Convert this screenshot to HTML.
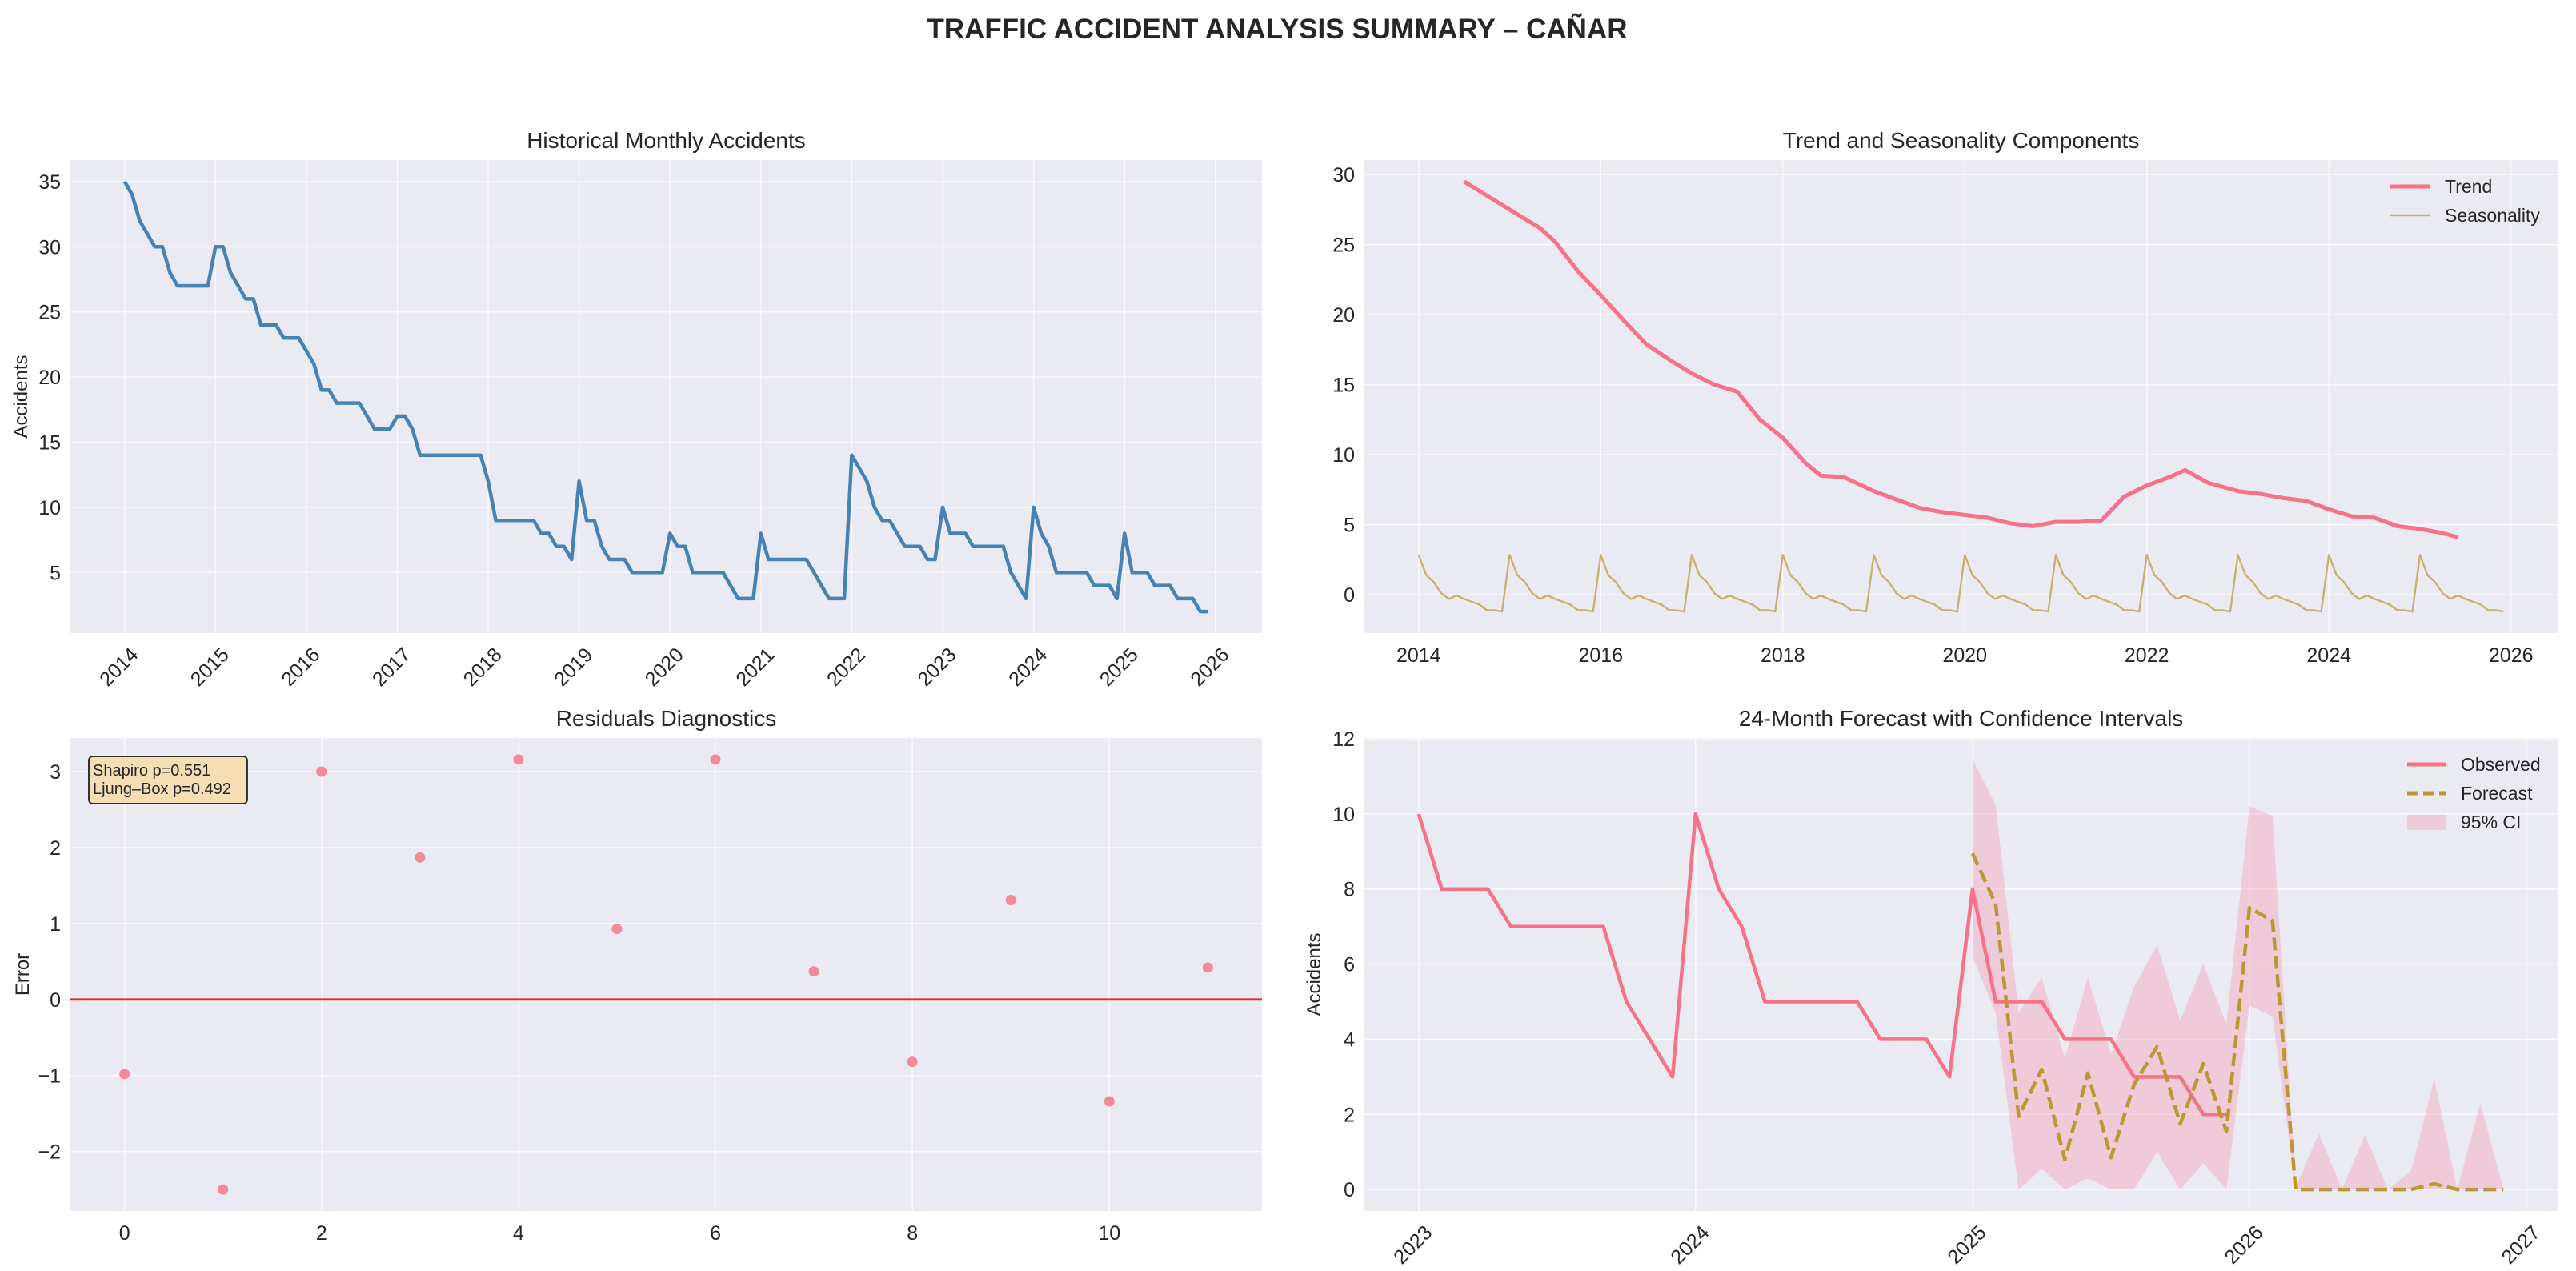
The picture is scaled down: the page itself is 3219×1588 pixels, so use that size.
<!DOCTYPE html>
<html><head><meta charset="utf-8">
<style>
html,body{margin:0;padding:0;background:#fff;}
svg{display:block;font-family:"Liberation Sans","DejaVu Sans",sans-serif;}
</style></head>
<body>
<svg id="fig" width="3219" height="1588" viewBox="0 0 3219 1588" xmlns="http://www.w3.org/2000/svg">
<text x="1596" y="48" text-anchor="middle" font-size="35" font-weight="bold" fill="#262626">TRAFFIC ACCIDENT ANALYSIS SUMMARY – CAÑAR</text>
</svg>
<script>
// ---------- data ----------
const histStartYear = 2014;
const histValues = [
35,34,32,31,30,30,28,27,27,27,27,27,
30,30,28,27,26,26,24,24,24,23,23,23,
22,21,19,19,18,18,18,18,17,16,16,16,
17,17,16,14,14,14,14,14,14,14,14,14,
12,9,9,9,9,9,9,8,8,7,7,6,
12,9,9,7,6,6,6,5,5,5,5,5,
8,7,7,5,5,5,5,5,4,3,3,3,
8,6,6,6,6,6,6,5,4,3,3,3,
14,13,12,10,9,9,8,7,7,7,6,6,
10,8,8,8,7,7,7,7,7,5,4,3,
10,8,7,5,5,5,5,5,4,4,4,3,
8,5,5,5,4,4,4,3,3,3,2,2];
const histYTicks = [5,10,15,20,25,30,35];
const histXTicks = [2014,2015,2016,2017,2018,2019,2020,2021,2022,2023,2024,2025,2026];

const trendTimes = [2014.5,2015.0,2015.33,2015.5,2015.75,2016.0,2016.25,2016.5,2016.75,2017.0,2017.25,2017.5,2017.75,2018.0,2018.25,2018.42,2018.67,2019.0,2019.25,2019.5,2019.75,2020.0,2020.25,2020.5,2020.75,2021.0,2021.25,2021.5,2021.75,2022.0,2022.25,2022.42,2022.67,2023.0,2023.25,2023.5,2023.75,2024.0,2024.25,2024.5,2024.75,2025.0,2025.25,2025.42];
const trendValues = [29.5,27.5,26.2,25.2,23.1,21.4,19.6,17.9,16.8,15.8,15.0,14.5,12.5,11.2,9.4,8.5,8.4,7.4,6.8,6.2,5.9,5.7,5.5,5.1,4.9,5.2,5.2,5.3,7.0,7.8,8.4,8.9,8.0,7.4,7.2,6.9,6.7,6.1,5.6,5.5,4.9,4.7,4.4,4.1];
const seasonPattern = [2.85,1.4,0.9,0.1,-0.3,-0.05,-0.3,-0.5,-0.7,-1.1,-1.1,-1.2];
const seasonYears = 12;
const compYTicks = [0,5,10,15,20,25,30];
const compXTicks = [2014,2016,2018,2020,2022,2024,2026];

const residValues = [-0.98,-2.5,3.0,1.87,3.16,0.93,3.16,0.37,-0.82,1.31,-1.34,0.42];
const residYTicks = [-2,-1,0,1,2,3];
const residXTicks = [0,2,4,6,8,10];

const obsStartIndex = 108; // Jan 2023 within histValues
const fcValues = [8.95,7.6,1.95,3.2,0.8,3.1,0.85,2.8,3.8,1.75,3.35,1.55,7.5,7.15,0,0,0,0,0,0,0.15,0,0,0];
const ciUpper = [11.45,10.25,4.7,5.65,3.5,5.65,3.6,5.4,6.5,4.5,6.0,4.4,10.2,9.95,0.05,1.5,0,1.45,0,0.5,2.95,0,2.3,0];
const ciLower = [6.2,4.7,0,0.55,0,0.3,0,0,1.0,0,0.7,0,4.9,4.6,0,0,0,0,0,0,0,0,0,0];
const fcYTicks = [0,2,4,6,8,10,12];
const fcXTicks = [2023,2024,2025,2026,2027];

// ---------- helpers ----------
const NS = "http://www.w3.org/2000/svg";
const svg = document.getElementById('fig');
const TICK = 25;
function mk(tag, attrs, parent){
  const e = document.createElementNS(NS, tag);
  for (const k in attrs) e.setAttribute(k, attrs[k]);
  (parent||svg).appendChild(e);
  return e;
}
function scale(d0,d1,r0,r1){ return v => r0 + (v-d0)*(r1-r0)/(d1-d0); }
function frame(box, name, title, xd, yd, xticks, yticks, rotate, ylabel){
  const g = mk('g', {});
  
  
  const bg = mk('rect', {x:box.l, y:box.t, width:box.r-box.l, height:box.b-box.t, fill:'#eaeaf2'}, g);
  
  
  const X = scale(xd[0], xd[1], box.l, box.r), Y = scale(yd[0], yd[1], box.b, box.t);
  yticks.forEach(v => {
    const y = Y(v);
    const gl = mk('line', {x1:box.l, x2:box.r, y1:y, y2:y, stroke:'#ffffff', 'stroke-opacity':0.7, 'stroke-width':1.5}, g);
    
    
    const t = mk('text', {x:box.l-12, y:y+9, 'text-anchor':'end', 'font-size':TICK, fill:'#262626'}, g);
    
    
    t.textContent = v < 0 ? '\u2212' + Math.abs(v) : v;
  });
  xticks.forEach(v => {
    const x = X(v);
    const gl = mk('line', {x1:x, x2:x, y1:box.t, y2:box.b, stroke:'#ffffff', 'stroke-opacity':0.7, 'stroke-width':1.5}, g);
    
    
    let t;
    if (rotate){
      t = mk('text', {x:x+6, y:box.b+16, 'text-anchor':'end', 'font-size':TICK, fill:'#262626', transform:`rotate(-45 ${x+6} ${box.b+16})`, dy:'0.7em'}, g);
    } else {
      t = mk('text', {x:x, y:box.b+36, 'text-anchor':'middle', 'font-size':TICK, fill:'#262626'}, g);
    }
    
    
    t.textContent = v;
  });
  const tt = mk('text', {x:(box.l+box.r)/2, y:box.t-15, 'text-anchor':'middle', 'font-size':28, fill:'#262626'}, g);
  
  
  tt.textContent = title;
  if (ylabel){
    const cy = (box.t+box.b)/2;
    const yl = mk('text', {x:ylabel.x, y:cy, 'text-anchor':'middle', 'font-size':24, fill:'#262626', transform:`rotate(-90 ${ylabel.x} ${cy})`}, g);
    
    
    yl.textContent = ylabel.text;
  }
  return {g, X, Y};
}
function pathD(xs, ys, X, Y){ return xs.map((x,i)=>(i?'L':'M')+X(x).toFixed(1)+','+Y(ys[i]).toFixed(1)).join(''); }

// ---------- panel 1: history ----------
{
  const box = {l:88, r:1577, t:200, b:791};
  const n = histValues.length;
  const times = histValues.map((v,i)=>histStartYear + i/12);
  const t0 = times[0], t1 = times[n-1], pad=(t1-t0)*0.05;
  const vmin = Math.min(...histValues), vmax = Math.max(...histValues), vp=(vmax-vmin)*0.05;
  const a = frame(box, 'historical-panel', 'Historical Monthly Accidents', [t0-pad,t1+pad], [vmin-vp, vmax+vp], histXTicks, histYTicks, true, {x:34, text:'Accidents'});
  const p = mk('path', {d:pathD(times, histValues, a.X, a.Y), fill:'none', stroke:'#4682b4', 'stroke-width':4.5, 'stroke-linejoin':'round'}, a.g);
  
  
}

// ---------- panel 2: components ----------
{
  const box = {l:1705, r:3196, t:200, b:791};
  const sTimes = [], sVals = [];
  for (let y=0; y<seasonYears; y++) seasonPattern.forEach((v,m)=>{ sTimes.push(2014 + y + m/12); sVals.push(v); });
  const t0 = sTimes[0], t1 = sTimes[sTimes.length-1], pad=(t1-t0)*0.05;
  const all = trendValues.concat(sVals);
  const vmin = Math.min(...all), vmax = Math.max(...all), vp=(vmax-vmin)*0.05;
  const a = frame(box, 'components-panel', 'Trend and Seasonality Components', [t0-pad,t1+pad], [vmin-vp, vmax+vp], compXTicks, compYTicks, false, null);
  const sp = mk('path', {d:pathD(sTimes, sVals, a.X, a.Y), fill:'none', stroke:'#c9b072', 'stroke-width':2.4, 'stroke-linejoin':'round'}, a.g);
  
  
  const tp = mk('path', {d:pathD(trendTimes, trendValues, a.X, a.Y), fill:'none', stroke:'#f77189', 'stroke-width':5, 'stroke-linejoin':'round'}, a.g);
  
  
  const lg = mk('g', {}, a.g);
  
  
  const l1 = mk('line', {x1:2987, x2:3036, y1:233, y2:233, stroke:'#f77189', 'stroke-width':5}, lg);
   
  const t1e = mk('text', {x:3055, y:241, 'font-size':23, fill:'#262626'}, lg);
   
  t1e.textContent = 'Trend';
  const l2 = mk('line', {x1:2987, x2:3036, y1:269, y2:269, stroke:'#c9b072', 'stroke-width':2.5}, lg);
   
  const t2e = mk('text', {x:3055, y:277, 'font-size':23, fill:'#262626'}, lg);
   
  t2e.textContent = 'Seasonality';
}

// ---------- panel 3: residuals ----------
{
  const box = {l:88, r:1577, t:922, b:1513};
  const n = residValues.length;
  const xs = residValues.map((v,i)=>i);
  const pad = (n-1)*0.05;
  const vmin = Math.min(...residValues), vmax = Math.max(...residValues), vp=(vmax-vmin)*0.05;
  const a = frame(box, 'residuals-panel', 'Residuals Diagnostics', [-pad, n-1+pad], [vmin-vp, vmax+vp], residXTicks, residYTicks, false, {x:36, text:'Error'});
  const hl = mk('line', {x1:box.l, x2:box.r, y1:a.Y(0), y2:a.Y(0), stroke:'#e0282e', 'stroke-width':2.8}, a.g);
  
  
  residValues.forEach((v,i)=>{
    const c = mk('circle', {cx:a.X(i), cy:a.Y(v), r:6.5, fill:'#f5899c'}, a.g);
    
    
  });
  const tb = mk('g', {}, a.g);
  
  
  const r = mk('rect', {x:111, y:945, width:198, height:59, rx:5, fill:'#f5deb3', stroke:'#333', 'stroke-width':2}, tb);
   
  const s1 = mk('text', {x:116, y:969, 'font-size':20, fill:'#262626'}, tb);
   
  s1.textContent = 'Shapiro p=0.551';
  const s2 = mk('text', {x:116, y:992, 'font-size':20, fill:'#262626'}, tb);
   
  s2.textContent = 'Ljung\u2013Box p=0.492';
}

// ---------- panel 4: forecast ----------
{
  const box = {l:1705, r:3196, t:922, b:1513};
  const obs = histValues.slice(obsStartIndex);
  const obsT = obs.map((v,i)=>2023 + i/12);
  const fcT = fcValues.map((v,i)=>2025 + i/12);
  const t0 = obsT[0], t1 = fcT[fcT.length-1], pad=(t1-t0)*0.05;
  const all = obs.concat(fcValues, ciUpper, ciLower);
  const vmin = Math.min(...all), vmax = Math.max(...all), vp=(vmax-vmin)*0.05;
  const a = frame(box, 'forecast-panel', '24-Month Forecast with Confidence Intervals', [t0-pad,t1+pad], [vmin-vp, vmax+vp], fcXTicks, fcYTicks, true, {x:1650, text:'Accidents'});
  const up = fcT.map((t,i)=>'L'+a.X(t).toFixed(1)+','+a.Y(ciUpper[i]).toFixed(1));
  const lo = fcT.map((t,i)=>'L'+a.X(t).toFixed(1)+','+a.Y(ciLower[i]).toFixed(1)).reverse();
  const band = mk('path', {d:'M'+up.join('').slice(1)+lo.join('')+'Z', fill:'#f7a6ba', 'fill-opacity':0.45}, a.g);
  
  
  const op = mk('path', {d:pathD(obsT, obs, a.X, a.Y), fill:'none', stroke:'#f77189', 'stroke-width':4.5, 'stroke-linejoin':'round'}, a.g);
  
  
  const fp = mk('path', {d:pathD(fcT, fcValues, a.X, a.Y), fill:'none', stroke:'#bb9832', 'stroke-width':4.5, 'stroke-dasharray':'16 7', 'stroke-linejoin':'round'}, a.g);
  
  
  const lg = mk('g', {}, a.g);
  
  
  const a1 = mk('line', {x1:3008, x2:3057, y1:955, y2:955, stroke:'#f77189', 'stroke-width':5}, lg);
   
  const b1 = mk('text', {x:3075, y:963, 'font-size':23, fill:'#262626'}, lg);
   
  b1.textContent = 'Observed';
  const a2 = mk('line', {x1:3008, x2:3057, y1:991, y2:991, stroke:'#bb9832', 'stroke-width':5, 'stroke-dasharray':'14 6'}, lg);
   
  const b2 = mk('text', {x:3075, y:999, 'font-size':23, fill:'#262626'}, lg);
   
  b2.textContent = 'Forecast';
  const a3 = mk('rect', {x:3008, y:1018, width:49, height:19, fill:'#f7a6ba', 'fill-opacity':0.45}, lg);
   
  const b3 = mk('text', {x:3075, y:1035, 'font-size':23, fill:'#262626'}, lg);
   
  b3.textContent = '95% CI';
}
</script>
</body></html>
